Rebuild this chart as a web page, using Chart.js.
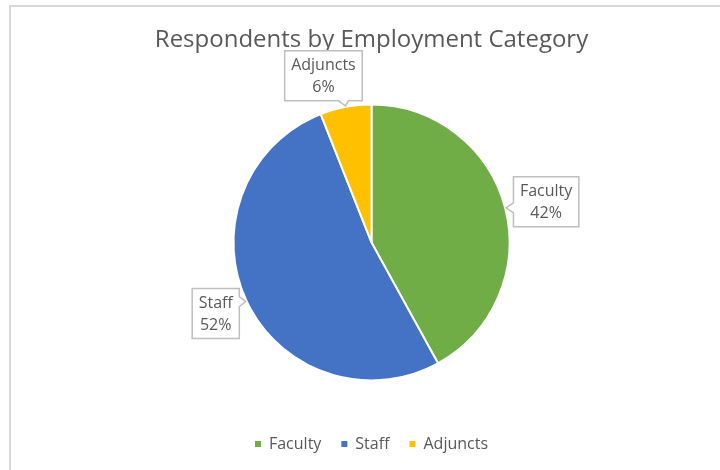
<!DOCTYPE html>
<html>
<head>
<meta charset="utf-8">
<script src="https://cdn.jsdelivr.net/npm/chart.js@4.4.0/dist/chart.umd.min.js"></script>
<style>
  html, body { margin: 0; padding: 0; background: #fff; }
  #wrap { position: relative; width: 720px; height: 470px; overflow: hidden; }
  #frame { position: absolute; left: 9px; top: 5px; width: 760px; height: 520px;
           border-left: 2px solid #d9d9d9; border-top: 2px solid #d9d9d9; }
  canvas { position: absolute; left: 0; top: 0; }
</style>
</head>
<body>
<div id="wrap">
  <div id="frame"></div>
  <canvas id="pie" width="720" height="470"></canvas>
</div>
<script>
const categories = ['Faculty', 'Staff', 'Adjuncts'];
const shares = [42, 52, 6];
const sliceColors = ['#70AD47', '#4472C4', '#FFC000'];
const titleText = 'Respondents by Employment Category';

// where each callout box sits, relative to the outer edge of its slice
const calloutOffsets = [[40, -6], [-30, 12], [-22, -30]];

const textGray = '#595959';
const fontFamily = '"Open Sans", sans-serif';

// Excel style data callouts: box with a little pointer towards the slice
const callouts = {
  id: 'callouts',
  afterDatasetsDraw(chart) {
    const ctx = chart.ctx;
    const meta = chart.getDatasetMeta(0);
    const data = chart.data.datasets[0].data;
    const total = data.reduce((a, b) => a + b, 0);
    ctx.save();
    ctx.font = '16px ' + fontFamily;
    meta.data.forEach((arc, i) => {
      const p = arc.getProps(['x', 'y', 'startAngle', 'endAngle', 'outerRadius'], true);
      const mid = (p.startAngle + p.endAngle) / 2;
      const tipX = p.x + (p.outerRadius + 1) * Math.cos(mid);
      const tipY = p.y + (p.outerRadius + 1) * Math.sin(mid);
      const lines = [chart.data.labels[i], Math.round(data[i] / total * 100) + '%'];
      const w = Math.max(...lines.map(t => ctx.measureText(t).width)) + 13;
      const h = 50;
      const cx = tipX + calloutOffsets[i][0];
      const cy = tipY + calloutOffsets[i][1];
      const l = cx - w / 2, r = cx + w / 2, t = cy - h / 2, b = cy + h / 2;
      const by = Math.min(Math.max(tipY, t + 6), b - 6);
      const bx = Math.min(Math.max(tipX - 2, l + 6), r - 6);

      ctx.beginPath();
      ctx.moveTo(l, t);
      ctx.lineTo(r, t);
      if (tipX > r) {
        ctx.lineTo(r, by - 5); ctx.lineTo(tipX, tipY); ctx.lineTo(r, by + 5);
      }
      ctx.lineTo(r, b);
      if (tipX >= l && tipX <= r && tipY > b) {
        ctx.lineTo(bx + 5, b); ctx.lineTo(tipX, tipY); ctx.lineTo(bx - 5, b);
      }
      ctx.lineTo(l, b);
      if (tipX < l) {
        ctx.lineTo(l, by + 5); ctx.lineTo(tipX, tipY); ctx.lineTo(l, by - 5);
      }
      ctx.closePath();
      ctx.fillStyle = '#ffffff';
      ctx.fill();
      ctx.lineWidth = 1.5;
      ctx.strokeStyle = '#bfbfbf';
      ctx.stroke();

      ctx.fillStyle = textGray;
      ctx.textAlign = 'center';
      ctx.textBaseline = 'middle';
      ctx.fillText(lines[0], cx, cy - 10.5);
      ctx.fillText(lines[1], cx, cy + 12);
    });
    ctx.restore();
  }
};

new Chart(document.getElementById('pie'), {
  type: 'pie',
  data: {
    labels: categories,
    datasets: [{
      data: shares,
      backgroundColor: sliceColors,
      borderColor: '#ffffff',
      borderWidth: 2
    }]
  },
  options: {
    responsive: false,
    animation: false,
    radius: 138,
    layout: { padding: { left: 23, right: 0, top: 0, bottom: 8 } },
    plugins: {
      title: {
        display: true,
        text: titleText,
        color: textGray,
        font: { family: fontFamily, size: 24, weight: 'normal' },
        padding: { top: 26, bottom: 14 }
      },
      legend: {
        position: 'bottom',
        labels: {
          boxWidth: 6,
          boxHeight: 6,
          padding: 20,
          color: textGray,
          font: { family: fontFamily, size: 16 },
          generateLabels(chart) {
            return Chart.overrides.pie.plugins.legend.labels.generateLabels(chart)
              .map(item => Object.assign(item, { lineWidth: 0, strokeStyle: item.fillStyle }));
          }
        }
      },
      tooltip: { enabled: false }
    }
  },
  plugins: [callouts]
});
</script>
</body>
</html>
